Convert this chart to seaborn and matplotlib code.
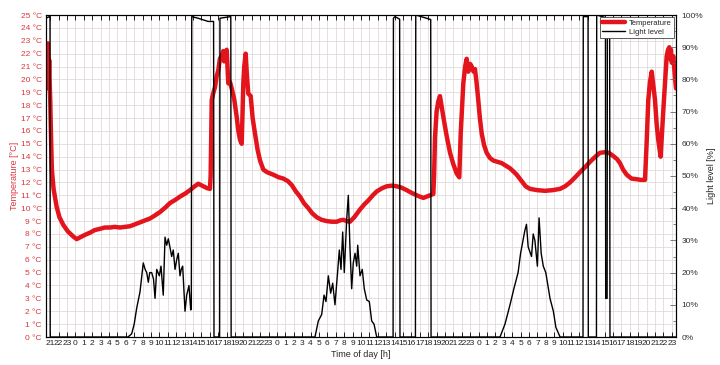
import matplotlib
matplotlib.use("Agg")
import matplotlib.pyplot as plt
import seaborn as sns
from matplotlib.lines import Line2D
from matplotlib.ticker import MultipleLocator, FixedLocator

# ---- data (hours counted from 21:00 on the first evening) ----
temp_hours = [
    -0.5, -0.42, -0.35, -0.28, -0.2, -0.12, -0.05, 0.0, 0.1, 0.2, 0.4, 0.77, 1.1, 1.56,
    2.1, 2.75, 3.15, 3.6, 4.2, 4.74, 5.3, 5.93, 6.5, 7.12, 7.7, 8.31, 8.9, 9.5, 10.1,
    10.69, 11.3, 11.88, 12.5, 13.07, 13.7, 14.26, 14.9, 15.45, 16.1, 16.64, 17.2, 17.63,
    18.23, 18.7, 19.02, 19.1, 19.23, 19.4, 19.62, 19.8, 20.01, 20.2, 20.42, 20.6, 20.7,
    20.81, 20.9, 21.01, 21.1, 21.2, 21.4, 21.61, 21.9, 22.2, 22.4, 22.6, 22.8, 22.99,
    23.1, 23.27, 23.4, 23.58, 23.87, 24.1, 24.38, 24.7, 24.98, 25.37, 25.8, 26.17, 26.56,
    27.2, 27.75, 28.3, 28.75, 29.25, 29.74, 30.2, 30.73, 31.2, 31.73, 32.3, 32.92, 33.5,
    34.11, 34.5, 34.89, 35.3, 35.69, 36.2, 36.88, 37.4, 37.87, 38.4, 38.87, 39.5, 40.06,
    40.7, 41.25, 41.8, 42.44, 43.0, 43.63, 44.0, 44.42, 45.0, 45.61, 45.7, 45.81, 46.0,
    46.2, 46.4, 46.6, 46.8, 47.2, 47.6, 48.0, 48.39, 48.7, 48.87, 49.0, 49.18, 49.4,
    49.58, 49.77, 50.0, 50.18, 50.4, 50.57, 50.75, 50.96, 51.15, 51.37, 51.65, 51.96,
    52.35, 52.75, 53.25, 53.75, 54.25, 54.74, 55.15, 55.54, 56.13, 56.6, 57.12, 58.0,
    58.9, 59.8, 60.69, 61.3, 61.88, 62.5, 63.07, 63.7, 64.26, 64.9, 65.45, 66.05, 66.5,
    67.04, 67.5, 67.83, 68.2, 68.63, 69.2, 69.82, 70.3, 70.81, 71.0, 71.2, 71.4, 71.61,
    71.8, 72.0, 72.2, 72.39, 72.67, 72.8, 72.99, 73.2, 73.39, 73.55, 73.7, 73.8, 73.9,
    74.0, 74.18, 74.3, 74.4, 74.5,
]
temp_c = [
    20.0, 22.5, 19.5, 22.8, 19.3, 21.5, 19.5, 18.5, 15.5, 13.0, 11.5, 10.1, 9.3, 8.7,
    8.2, 7.8, 7.6, 7.75, 7.95, 8.1, 8.3, 8.4, 8.5, 8.5, 8.55, 8.5, 8.55, 8.6, 8.75,
    8.9, 9.05, 9.2, 9.45, 9.7, 10.05, 10.4, 10.65, 10.9, 11.15, 11.4, 11.7, 11.9,
    11.7, 11.55, 11.5, 12.5, 18.4, 18.9, 19.4, 20.2, 20.7, 21.6, 21.8, 22.2, 21.4,
    22.1, 21.6, 22.3, 21.0, 19.7, 19.8, 19.3, 18.5, 17.1, 16.0, 15.3, 15.0, 19.7,
    21.0, 22.0, 20.5, 18.9, 18.7, 17.0, 15.8, 14.5, 13.7, 13.0, 12.8, 12.7, 12.6,
    12.4, 12.3, 12.1, 11.8, 11.3, 10.9, 10.4, 10.0, 9.6, 9.3, 9.1, 9.0, 8.95,
    8.95, 9.05, 9.1, 9.0, 8.95, 9.3, 9.9, 10.3, 10.6, 11.0, 11.3, 11.55, 11.7,
    11.75, 11.7, 11.6, 11.4, 11.2, 11.0, 10.9, 10.8, 10.95, 11.1, 12.5, 15.5, 17.5,
    18.3, 18.7, 17.9, 17.1, 15.6, 14.3, 13.4, 12.7, 12.4, 15.8, 17.5, 19.7, 21.0,
    21.6, 20.6, 21.2, 21.0, 20.6, 20.8, 19.8, 18.4, 17.0, 15.8, 14.9, 14.3,
    13.9, 13.7, 13.6, 13.5, 13.3, 13.1, 12.85, 12.6, 12.1, 11.7, 11.5, 11.4,
    11.35, 11.4, 11.5, 11.7, 12.0, 12.4, 12.8, 13.2, 13.6, 14.0, 14.3, 14.35, 14.3,
    14.05, 13.8, 13.5, 13.0, 12.6, 12.3, 12.25, 12.2, 12.2, 15.0, 18.4, 19.8, 20.6,
    19.5, 18.4, 16.5, 15.3, 14.0, 15.5, 17.6, 19.8, 21.8, 22.3, 22.5, 21.6, 22.3,
    21.3, 21.8, 20.8, 20.0, 19.3,
]

light_hours = [
    -0.5, -0.1, -0.02, 0.0, 9.26, 9.7, 10.0, 10.3, 10.69, 11.08, 11.3, 11.49, 11.68,
    11.85, 12.08, 12.3, 12.48, 12.68, 12.99, 13.19, 13.46, 13.67, 13.87, 14.06, 14.25,
    14.46, 14.65, 14.86, 15.06, 15.25, 15.45, 15.6, 15.77, 16.05, 16.25, 16.52, 16.73,
    16.8, 16.85, 17.6, 18.8, 19.45, 19.5, 20.17, 20.21, 21.5, 21.54,
    31.52, 31.92, 32.32, 32.6, 32.83, 33.11, 33.39, 33.63, 33.9, 34.18, 34.42, 34.62,
    34.82, 35.01, 35.3, 35.49, 35.69, 35.89, 36.08, 36.29, 36.49, 36.61, 36.88, 37.15,
    37.39, 37.68, 37.99, 38.27, 38.55, 38.87,
    40.82, 40.86, 41.05, 41.6, 41.64, 43.48, 43.52, 45.3, 45.34,
    53.55, 54.14, 54.74, 55.2, 55.7, 56.0, 56.5, 56.7, 56.9, 57.3, 57.5, 57.7, 58.0,
    58.2, 58.45, 58.7, 59.0, 59.5, 59.9, 60.2, 60.7,
    63.43, 63.46, 64.03, 64.06, 65.03, 65.06, 66.1, 66.13, 66.3, 66.33, 66.6, 66.64, 74.5,
]
light_pct = [
    99, 99.5, 99, 0, 0, 1, 4, 9, 14, 23, 21, 20, 17,
    20, 20, 18, 12, 21, 19, 22, 13, 31, 28.5, 30.5, 28,
    25, 27, 21, 24, 26, 19, 21, 22, 8, 13, 16, 8.4,
    9, 99.5, 99, 98, 98, 0, 0, 99, 99.5, 0,
    0, 5, 7, 13, 11, 19, 13.6, 16.7, 10, 19, 27, 21,
    32.6, 20, 36.7, 44, 27.5, 15, 23, 26, 22, 28.5, 19, 21,
    15, 11.5, 11, 5, 4, 0,
    0, 99, 99.5, 98.7, 0, 0, 100, 98.6, 0,
    0, 4, 10, 15, 20, 26, 33, 35, 28, 25, 32, 30, 22,
    37, 26, 22, 20, 12, 8, 3, 0,
    0, 99.5, 99.5, 0, 0, 100, 99.2, 12, 12, 99, 98.7, 0, 0,
]

hour_labels = [str((21 + k) % 24) for k in range(75)]
temp_ticks = list(range(0, 26))
light_ticks = list(range(0, 101, 10))

TEMP_RED = "#e3141c"
LABEL_RED = "#d9383c"

# ---- figure ----
sns.set_theme(style="white")
plt.rcParams["font.family"] = ["Liberation Sans", "DejaVu Sans"]

fig = plt.figure(figsize=(7.2, 3.65), dpi=100)
ax = fig.add_axes([46 / 720, 1 - 337 / 365, 630 / 720, 322 / 365])
ax2 = ax.twinx()

sns.lineplot(x=temp_hours, y=temp_c, ax=ax, color=TEMP_RED, linewidth=3.2,
             estimator=None, sort=False)
sns.lineplot(x=light_hours, y=light_pct, ax=ax2, color="black", linewidth=1.0,
             estimator=None, sort=False)

ax.set_xlim(-0.5, 74.5)
ax.set_ylim(0, 25)
ax2.set_ylim(0, 100)

ax.xaxis.set_major_locator(FixedLocator(range(75)))
ax.set_xticklabels(hour_labels, fontsize=6)
ax.set_yticks(temp_ticks)
ax.set_yticklabels([f"{v} °C" for v in temp_ticks], fontsize=6, color=LABEL_RED)
ax2.set_yticks(light_ticks)
ax2.set_yticklabels([f"{v}%" for v in light_ticks], fontsize=6, color="#333333")
ax2.yaxis.set_minor_locator(MultipleLocator(5))

ax.grid(True, color="#e4dada", linewidth=0.6)
ax.set_axisbelow(True)
ax.tick_params(axis="x", direction="in", length=3.5, width=0.6, top=True,
               bottom=True, pad=2, colors="black")
ax.tick_params(axis="y", direction="in", length=0, pad=3)
ax.xaxis.set_tick_params(labelcolor="#222222")
ax2.tick_params(axis="y", which="major", direction="in", length=4, width=0.6,
                color="#666666", pad=4)
ax2.tick_params(axis="y", which="minor", direction="in", length=2.5, width=0.6,
                color="#666666")

for spine in list(ax.spines.values()) + list(ax2.spines.values()):
    spine.set_color("black")
    spine.set_linewidth(0.8)

ax.set_xlabel("Time of day [h]", fontsize=6.5, labelpad=2)
ax.set_ylabel("Temperature [°C]", fontsize=6.5, color=LABEL_RED, labelpad=1)
ax2.set_ylabel("Light level [%]", fontsize=6.5, color="#222222", labelpad=3)

handles = [Line2D([], [], color=TEMP_RED, linewidth=3.2),
           Line2D([], [], color="black", linewidth=1.0)]
leg = ax2.legend(handles, ["Temperature", "Light level"], loc="upper right",
                 fontsize=5.5, frameon=True, fancybox=False, framealpha=1,
                 edgecolor="#444444", borderaxespad=0.3, handlelength=3,
                 borderpad=0.3, labelspacing=0.2, handletextpad=0.5)
leg.get_frame().set_linewidth(0.6)

fig.savefig("out.png", dpi=100)
